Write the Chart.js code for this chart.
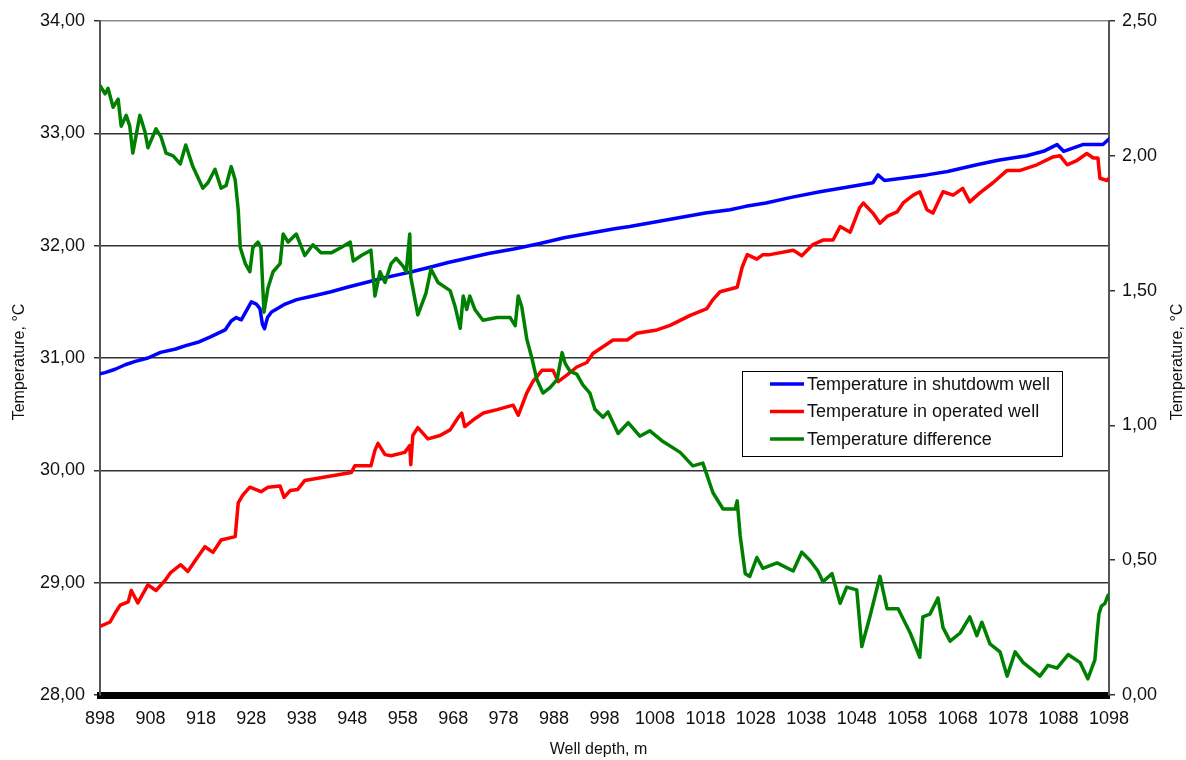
<!DOCTYPE html>
<html>
<head>
<meta charset="utf-8">
<title>Temperature profiles vs well depth</title>
<script src="https://cdn.jsdelivr.net/npm/chart.js@4.4.1/dist/chart.umd.min.js"></script>
<style>
  html, body { margin: 0; padding: 0; background: #fff; }
  #wrap { width: 1186px; height: 760px; }
</style>
</head>
<body>
<div id="wrap"><canvas id="chart" width="1186" height="760"></canvas></div>
<script>
// Axis ranges and labels
const depthMin = 898, depthMax = 1098, depthStep = 10;
const tempMin = 28, tempMax = 34, tempStep = 1;
const diffMin = 0, diffMax = 2.5, diffStep = 0.5;

const seriesNames = ['Temperature in shutdowm well', 'Temperature in operated well', 'Temperature difference'];
const seriesColors = ['#0000ff', '#ff0000', '#008000'];
const leftAxisTitle = 'Temperature, °C';
const rightAxisTitle = 'Temperature, °C';
const bottomAxisTitle = 'Well depth, m';

// Shutdown well temperature, °C
const shutdownDepth = [898, 899, 901, 903, 905, 907.5, 910, 913, 915, 917.4, 920, 922.8, 924, 925, 926, 927, 928, 929, 929.7, 930.2, 930.6, 931.2, 932, 934.7, 937, 940, 943.8, 947, 950.5, 954, 957, 960, 963.6, 967, 971, 975, 980, 985.2, 990, 995, 1000, 1003, 1008, 1013, 1018, 1022.9, 1026, 1030, 1035, 1040.7, 1046, 1051.2, 1052.2, 1053.5, 1057, 1061.9, 1066, 1071.8, 1076, 1081.7, 1085, 1087.7, 1089, 1092.8, 1096.8, 1098];
const shutdownTemp = [30.86, 30.87, 30.90, 30.94, 30.97, 31.00, 31.05, 31.08, 31.11, 31.14, 31.19, 31.25, 31.33, 31.36, 31.34, 31.42, 31.50, 31.48, 31.44, 31.30, 31.26, 31.36, 31.41, 31.48, 31.52, 31.55, 31.59, 31.63, 31.67, 31.71, 31.74, 31.77, 31.81, 31.85, 31.89, 31.93, 31.97, 32.02, 32.07, 32.11, 32.15, 32.17, 32.21, 32.25, 32.29, 32.32, 32.35, 32.38, 32.43, 32.48, 32.52, 32.56, 32.63, 32.58, 32.60, 32.63, 32.66, 32.72, 32.76, 32.80, 32.84, 32.90, 32.84, 32.90, 32.90, 32.95];

// Operated well temperature, °C
const operatedDepth = [898, 900, 901, 902, 903.6, 904.2, 905.5, 907.5, 909.1, 910.9, 912, 914, 915.4, 917.4, 918.8, 920.4, 922, 924.8, 925.4, 926.3, 927.7, 929.9, 931.3, 933.7, 934.5, 935.7, 937.2, 938.6, 942.6, 947.8, 948.5, 951.7, 952.5, 953.1, 954.5, 955.7, 958.4, 959.4, 959.6, 960, 961, 963, 965.4, 967.4, 969, 969.7, 970.3, 972, 974, 976.7, 979.9, 980.9, 982.6, 983.8, 985.6, 987.8, 988.8, 990.6, 992.5, 994.5, 995.7, 997.7, 999.7, 1002.5, 1004.4, 1008.4, 1011, 1015, 1018.3, 1019.5, 1020.9, 1024.3, 1025.3, 1026.3, 1028.2, 1029.4, 1030.8, 1035.4, 1037.1, 1039.3, 1041.3, 1043.3, 1044.7, 1046.7, 1048.6, 1049.3, 1051.2, 1052.6, 1054, 1056, 1057.2, 1059.2, 1060.5, 1061.9, 1063.1, 1065.1, 1067.1, 1069, 1070.4, 1072.4, 1075, 1077.8, 1080.4, 1083.7, 1086.9, 1088.3, 1089.7, 1091.7, 1093.6, 1094.9, 1095.8, 1096.2, 1097.6, 1098];
const operatedTemp = [28.61, 28.65, 28.73, 28.80, 28.83, 28.93, 28.82, 28.98, 28.93, 29.02, 29.09, 29.16, 29.10, 29.23, 29.32, 29.27, 29.38, 29.41, 29.71, 29.78, 29.85, 29.81, 29.85, 29.86, 29.76, 29.82, 29.83, 29.91, 29.94, 29.98, 30.04, 30.04, 30.18, 30.24, 30.14, 30.13, 30.16, 30.22, 30.05, 30.31, 30.38, 30.28, 30.31, 30.36, 30.47, 30.51, 30.39, 30.45, 30.51, 30.54, 30.58, 30.49, 30.69, 30.79, 30.89, 30.89, 30.79, 30.85, 30.92, 30.96, 31.04, 31.10, 31.16, 31.16, 31.22, 31.25, 31.29, 31.38, 31.44, 31.52, 31.59, 31.63, 31.81, 31.92, 31.88, 31.92, 31.92, 31.96, 31.91, 32.01, 32.05, 32.05, 32.17, 32.12, 32.34, 32.38, 32.29, 32.20, 32.26, 32.30, 32.38, 32.45, 32.48, 32.32, 32.29, 32.48, 32.45, 32.51, 32.39, 32.47, 32.56, 32.67, 32.67, 32.72, 32.79, 32.80, 32.72, 32.76, 32.82, 32.78, 32.78, 32.60, 32.58, 32.60];

// Temperature difference, °C (right axis)
const diffDepth = [898, 899, 899.6, 900.6, 901.6, 902.2, 903.2, 903.9, 904.5, 905.9, 906.9, 907.5, 909.1, 910.1, 911.1, 912.5, 913.9, 915, 916.4, 918.4, 919.4, 920.8, 922, 923, 924, 924.8, 925.4, 925.8, 926.8, 927.7, 928.3, 929.3, 929.9, 930.5, 931.3, 932.3, 933.7, 934.3, 935.3, 936.9, 938.6, 940.2, 941.8, 943.8, 945.8, 947.6, 948.2, 949.8, 951.7, 952.5, 953.5, 954.5, 955.7, 956.7, 958.1, 958.7, 959.4, 959.6, 961, 962.6, 963.6, 965, 967.4, 968.4, 969.4, 970, 970.7, 971.3, 972.3, 973.9, 976.7, 979.3, 980.3, 980.9, 981.6, 982.6, 983.6, 984.6, 985.8, 987.2, 988.6, 989.6, 990.2, 991.2, 992.5, 993.7, 995.1, 996.1, 997.7, 998.7, 1000.7, 1002.7, 1005, 1007, 1009.6, 1013, 1015.5, 1017.5, 1019.5, 1021.5, 1023.9, 1024.3, 1024.9, 1025.9, 1026.8, 1028.2, 1029.4, 1032.2, 1035.4, 1037.1, 1038.7, 1040.3, 1041.3, 1043.1, 1044.7, 1046, 1048, 1049, 1050.6, 1052.6, 1054, 1056.2, 1058.6, 1060.5, 1061.1, 1062.5, 1064.1, 1065.1, 1066.5, 1068.5, 1070.4, 1071.8, 1072.8, 1074.4, 1076.4, 1077.8, 1079.4, 1081, 1083, 1084.3, 1085.9, 1087.7, 1089.9, 1092.3, 1093.8, 1095.2, 1095.6, 1096, 1096.5, 1097.2, 1097.8, 1098];
const diffValue = [2.26, 2.23, 2.25, 2.18, 2.21, 2.11, 2.15, 2.11, 2.01, 2.15, 2.09, 2.03, 2.10, 2.07, 2.01, 2.00, 1.97, 2.04, 1.96, 1.88, 1.90, 1.95, 1.88, 1.89, 1.96, 1.91, 1.80, 1.66, 1.60, 1.57, 1.66, 1.68, 1.66, 1.42, 1.51, 1.57, 1.60, 1.71, 1.68, 1.71, 1.63, 1.67, 1.64, 1.64, 1.66, 1.68, 1.61, 1.63, 1.65, 1.48, 1.57, 1.53, 1.60, 1.62, 1.59, 1.57, 1.71, 1.55, 1.41, 1.49, 1.58, 1.53, 1.50, 1.44, 1.36, 1.48, 1.43, 1.48, 1.43, 1.39, 1.40, 1.40, 1.37, 1.48, 1.44, 1.32, 1.25, 1.17, 1.12, 1.14, 1.17, 1.27, 1.23, 1.20, 1.19, 1.15, 1.12, 1.06, 1.03, 1.05, 0.97, 1.01, 0.96, 0.98, 0.94, 0.90, 0.85, 0.86, 0.75, 0.69, 0.69, 0.72, 0.59, 0.45, 0.44, 0.51, 0.47, 0.49, 0.46, 0.53, 0.50, 0.46, 0.42, 0.45, 0.34, 0.40, 0.39, 0.18, 0.29, 0.44, 0.32, 0.32, 0.23, 0.14, 0.29, 0.30, 0.36, 0.25, 0.20, 0.23, 0.29, 0.22, 0.27, 0.19, 0.16, 0.07, 0.16, 0.12, 0.09, 0.07, 0.11, 0.10, 0.15, 0.12, 0.06, 0.13, 0.22, 0.30, 0.33, 0.34, 0.37, 0.37];

const toPoints = (xs, ys) => xs.map((x, i) => ({ x: x, y: ys[i] }));
const commaFixed = v => Number(v).toFixed(2).replace('.', ',');
const FONT = '"Liberation Sans", Arial, sans-serif';

// Legend box and axis titles drawn on top of the chart
const overlay = {
  id: 'overlay',
  beforeDraw(chart) {
    const ctx = chart.ctx;
    ctx.save();
    ctx.fillStyle = '#ffffff';
    ctx.fillRect(0, 0, chart.width, chart.height);
    ctx.restore();
  },
  afterDraw(chart) {
    const ctx = chart.ctx;
    const area = chart.chartArea;
    ctx.save();
    // axis titles
    ctx.fillStyle = '#111';
    ctx.font = '16px ' + FONT;
    ctx.textAlign = 'center';
    ctx.textBaseline = 'middle';
    const midY = (area.top + area.bottom) / 2 + 4;
    ctx.save();
    ctx.translate(20, midY);
    ctx.rotate(-Math.PI / 2);
    ctx.fillText(leftAxisTitle, 0, 0);
    ctx.restore();
    ctx.save();
    ctx.translate(1178, midY);
    ctx.rotate(-Math.PI / 2);
    ctx.fillText(rightAxisTitle, 0, 0);
    ctx.restore();
    ctx.fillText(bottomAxisTitle, (area.left + area.right) / 2 - 6, 750);

    // legend
    const bx = 742.5, by = 371.5, bw = 320, bh = 85;
    ctx.fillStyle = '#ffffff';
    ctx.fillRect(bx, by, bw, bh);
    ctx.strokeStyle = '#000';
    ctx.lineWidth = 1;
    ctx.strokeRect(bx, by, bw, bh);
    ctx.font = '18px ' + FONT;
    ctx.textAlign = 'left';
    ctx.textBaseline = 'middle';
    chart.data.datasets.forEach((ds, i) => {
      const y = 384 + i * 27.5;
      ctx.strokeStyle = ds.borderColor;
      ctx.lineWidth = 3.5;
      ctx.beginPath();
      ctx.moveTo(770, y);
      ctx.lineTo(804, y);
      ctx.stroke();
      ctx.fillStyle = '#111';
      ctx.fillText(ds.label, 807, y + 1);
    });
    ctx.restore();
  }
};

new Chart(document.getElementById('chart'), {
  type: 'line',
  data: {
    datasets: [
      { label: seriesNames[0], data: toPoints(shutdownDepth, shutdownTemp), borderColor: seriesColors[0], yAxisID: 'y', order: 3 },
      { label: seriesNames[1], data: toPoints(operatedDepth, operatedTemp), borderColor: seriesColors[1], yAxisID: 'y', order: 2 },
      { label: seriesNames[2], data: toPoints(diffDepth, diffValue), borderColor: seriesColors[2], yAxisID: 'y1', order: 1 }
    ]
  },
  options: {
    responsive: false,
    animation: false,
    devicePixelRatio: 1,
    layout: { padding: { top: 21, left: 0, right: 0, bottom: 0 } },
    elements: {
      line: { borderWidth: 3.5, tension: 0, fill: false, borderJoinStyle: 'round', borderCapStyle: 'round' },
      point: { radius: 0 }
    },
    plugins: { legend: { display: false }, tooltip: { enabled: false } },
    scales: {
      x: {
        type: 'linear',
        min: depthMin,
        max: depthMax,
        afterFit: s => { s.height = 65; },
        ticks: {
          stepSize: depthStep,
          color: '#111',
          font: { family: FONT, size: 18 },
          padding: 13,
          maxRotation: 0,
          callback: v => String(v)
        },
        afterBuildTicks: s => {
          const t = [];
          for (let v = depthMin; v <= depthMax; v += depthStep) t.push({ value: v });
          s.ticks = t;
        },
        grid: { display: false, drawTicks: false },
        border: { display: true, color: '#000', width: 7 }
      },
      y: {
        position: 'left',
        min: tempMin,
        max: tempMax,
        afterFit: s => { s.width = 100; },
        ticks: {
          stepSize: tempStep,
          color: '#111',
          font: { family: FONT, size: 18 },
          padding: 9,
          callback: v => commaFixed(v)
        },
        grid: {
          color: ctx => (ctx.tick && ctx.tick.value === tempMax) ? '#8a8a8a' : '#333',
          lineWidth: 1.5,
          drawTicks: true,
          tickLength: 6,
          tickColor: '#333'
        },
        border: { display: true, color: '#555', width: 2 }
      },
      y1: {
        position: 'right',
        min: diffMin,
        max: diffMax,
        afterFit: s => { s.width = 77; },
        ticks: {
          stepSize: diffStep,
          color: '#111',
          font: { family: FONT, size: 18 },
          padding: 7,
          callback: v => commaFixed(v)
        },
        grid: { drawOnChartArea: false, drawTicks: true, tickLength: 6, tickColor: '#333', lineWidth: 1.5 },
        border: { display: true, color: '#555', width: 2 }
      }
    }
  },
  plugins: [overlay]
});
</script>
</body>
</html>
